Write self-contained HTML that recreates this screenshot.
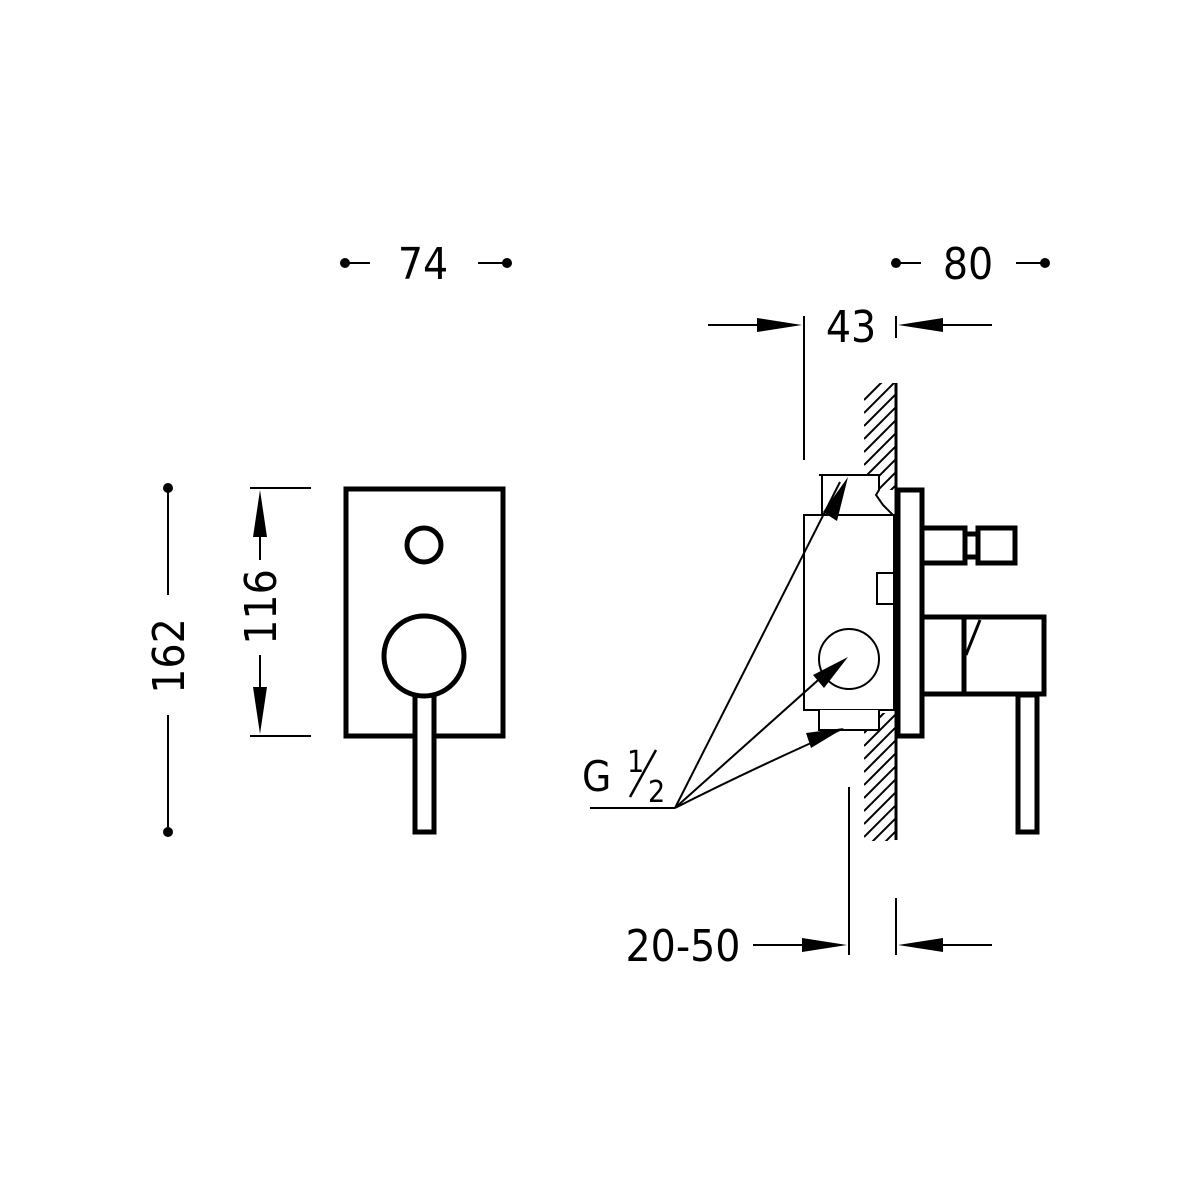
<!DOCTYPE html>
<html><head><style>html,body{margin:0;padding:0;background:#fff}svg{display:block}</style></head>
<body>
<svg width="1200" height="1200" viewBox="0 0 1200 1200" xmlns="http://www.w3.org/2000/svg" font-family="'DejaVu Sans Condensed','Liberation Sans',sans-serif">
<defs>
<clipPath id="h1"><polygon points="864,383 896,383 896,490 880,490 880,505 896,512 864,512"/></clipPath>
<clipPath id="h2"><rect x="864" y="713" width="32" height="128"/></clipPath>
<g id="hatch">
<path d="M864,400 l40,-40 M864,413 l40,-40 M864,426 l40,-40 M864,439 l40,-40 M864,452 l40,-40 M864,465 l40,-40 M864,478 l40,-40 M864,491 l40,-40 M864,504 l40,-40 M864,517 l40,-40 M864,530 l40,-40 M864,720 l40,-40 M864,733 l40,-40 M864,746 l40,-40 M864,759 l40,-40 M864,772 l40,-40 M864,785 l40,-40 M864,798 l40,-40 M864,811 l40,-40 M864,824 l40,-40 M864,837 l40,-40 M864,850 l40,-40 M864,863 l40,-40" stroke="#000" stroke-width="2"/>
</g>
</defs>
<g fill="#000">
<circle cx="345" cy="263" r="5"/><circle cx="507" cy="263" r="5"/>
<line x1="345" y1="263" x2="370" y2="263" stroke="#000" stroke-width="2"/>
<line x1="478" y1="263" x2="507" y2="263" stroke="#000" stroke-width="2"/>
<text x="423" y="279" font-size="44" text-anchor="middle">74</text>
<circle cx="896" cy="263" r="5"/><circle cx="1045" cy="263" r="5"/>
<line x1="896" y1="263" x2="921" y2="263" stroke="#000" stroke-width="2"/>
<line x1="1016" y1="263" x2="1045" y2="263" stroke="#000" stroke-width="2"/>
<text x="968" y="279" font-size="44" text-anchor="middle">80</text>
<line x1="708" y1="325" x2="770" y2="325" stroke="#000" stroke-width="2"/>
<polygon points="757,318 802,325 757,332"/>
<line x1="804" y1="316" x2="804" y2="460" stroke="#000" stroke-width="2"/>
<text x="851" y="342" font-size="44" text-anchor="middle">43</text>
<line x1="896" y1="316" x2="896" y2="338" stroke="#000" stroke-width="2"/>
<polygon points="898,325 943,318 943,332"/>
<line x1="930" y1="325" x2="992" y2="325" stroke="#000" stroke-width="2"/>
<circle cx="168" cy="488" r="5"/><circle cx="168" cy="832" r="5"/>
<line x1="168" y1="488" x2="168" y2="595" stroke="#000" stroke-width="2"/>
<line x1="168" y1="715" x2="168" y2="832" stroke="#000" stroke-width="2"/>
<text transform="translate(184,656) rotate(-90)" font-size="44" text-anchor="middle">162</text>
<line x1="250" y1="488" x2="311" y2="488" stroke="#000" stroke-width="2"/>
<line x1="250" y1="736" x2="311" y2="736" stroke="#000" stroke-width="2"/>
<polygon points="260,490 253,537 267,537"/>
<line x1="260" y1="520" x2="260" y2="560" stroke="#000" stroke-width="2"/>
<polygon points="260,734 253,687 267,687"/>
<line x1="260" y1="655" x2="260" y2="700" stroke="#000" stroke-width="2"/>
<text transform="translate(276,607) rotate(-90)" font-size="44" text-anchor="middle">116</text>
</g>
<g fill="none" stroke="#000" stroke-width="5">
<rect x="346" y="489" width="157" height="247" fill="#fff"/>
<circle cx="424" cy="545" r="17"/>
<rect x="415" y="695" width="19" height="137" fill="#fff"/>
<circle cx="424" cy="656" r="40" fill="#fff"/>
</g>
<g clip-path="url(#h1)"><use href="#hatch"/></g>
<g clip-path="url(#h2)"><use href="#hatch"/></g>
<line x1="896" y1="383" x2="896" y2="840" stroke="#000" stroke-width="3"/>
<g fill="#fff" stroke="#000" stroke-width="2">
<path d="M819,475 L879,475 L879,490 L876,495 L883,505 L893,515 L804,515 M822,475 L822,515"/>
<rect x="804" y="515" width="90" height="195"/>
<rect x="877" y="573" width="17" height="31"/>
<path d="M804,710 L819,710 L819,730 L879,730 L879,710 L894,710"/>
<circle cx="849" cy="659" r="30"/>
</g>
<g fill="#fff" stroke="#000" stroke-width="5">
<rect x="898" y="490" width="24" height="246"/>
<rect x="922" y="528" width="43" height="35"/>
<rect x="965" y="534" width="13" height="23"/>
<rect x="978" y="528" width="37" height="35"/>
<rect x="1018" y="695" width="19" height="137"/>
<rect x="922" y="617" width="42" height="77"/>
<path d="M964,694 L964,617 L1044,617 L1044,694 Z"/>
<path d="M966,655 L980,620" stroke-width="3"/>
</g>
<g stroke="#000" stroke-width="2" fill="none">
<line x1="590" y1="808" x2="675" y2="808"/>
<line x1="675" y1="808" x2="840" y2="482"/>
<line x1="675" y1="808" x2="835" y2="665"/>
<path d="M675,808 Q750,770 840,730"/>
</g>
<g fill="#000">
<polygon points="848,477 837,521 823,512"/>
<polygon points="848,657 824,688 813,675"/>
<polygon points="844,728 811,748 806,733"/>
<text x="582" y="791" font-size="42">G</text>
<text x="627" y="772" font-size="30">1</text>
<line x1="630" y1="797" x2="656" y2="750" stroke="#000" stroke-width="2.5"/>
<text x="648" y="802" font-size="30">2</text>
<text x="683" y="961" font-size="44" text-anchor="middle">20-50</text>
<line x1="753" y1="945" x2="810" y2="945" stroke="#000" stroke-width="2"/>
<polygon points="802,938 847,945 802,952"/>
<line x1="849" y1="787" x2="849" y2="955" stroke="#000" stroke-width="2"/>
<line x1="896" y1="898" x2="896" y2="955" stroke="#000" stroke-width="2"/>
<polygon points="898,945 943,938 943,952"/>
<line x1="930" y1="945" x2="992" y2="945" stroke="#000" stroke-width="2"/>
</g>
</svg>
</body></html>
